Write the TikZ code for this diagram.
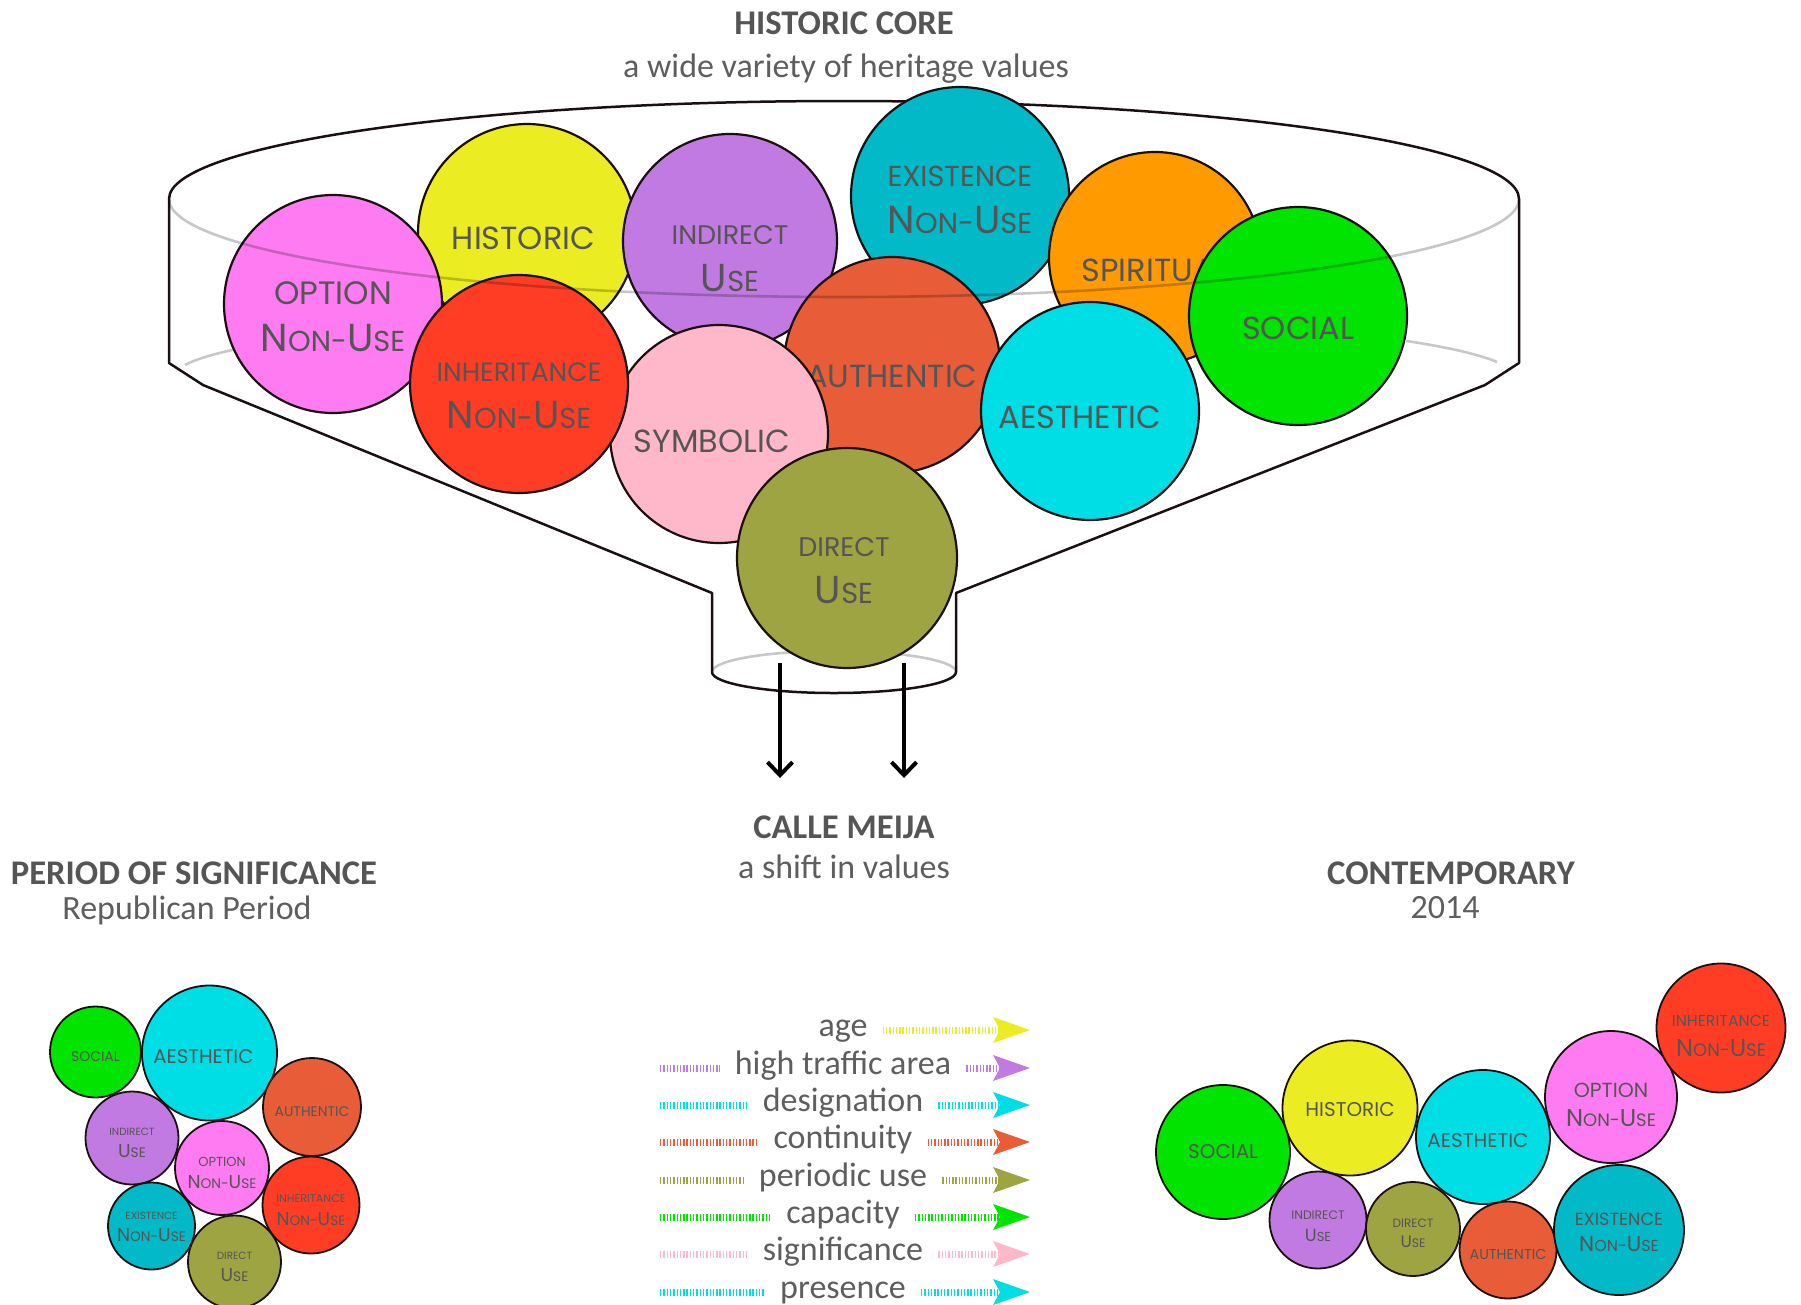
\documentclass[tikz,border=0pt]{standalone}
\usepackage{fontspec}
\usepackage{tikz}
\usetikzlibrary{positioning}
\usetikzlibrary{calc}
\usetikzlibrary{arrows.meta}

\setmainfont{Carlito}
\newfontfamily\valfamily{Poppins}

\definecolor{ink}{HTML}{1A1010}
\definecolor{txtGray}{HTML}{555555}
\definecolor{subGray}{HTML}{5E5E5E}
\definecolor{rimGray}{HTML}{C8C8C8}
\definecolor{optionPink}{HTML}{FF7BF1}
\definecolor{historicYellow}{HTML}{EBED22}
\definecolor{indirectPurple}{HTML}{C17AE2}
\definecolor{existenceTeal}{HTML}{02B9C7}
\definecolor{spiritualOrange}{HTML}{FF9A00}
\definecolor{socialGreen}{HTML}{00E400}
\definecolor{authenticRed}{HTML}{E85D38}
\definecolor{aestheticCyan}{HTML}{00DEE5}
\definecolor{inheritanceRed}{HTML}{FF3D24}
\definecolor{symbolicPink}{HTML}{FFB8CA}
\definecolor{directOlive}{HTML}{9DA441}

% scale the current font size by a factor
\makeatletter
\newcommand{\valScale}[2]{{\fontsize{\fpeval{#1*\f@size}}{\f@baselineskip}\selectfont#2}}
\makeatother
\newcommand{\smallCaps}[1]{\valScale{.74}{#1}}
\newcommand{\valWord}[1]{\valScale{.82}{#1}}
\newcommand{\nonUse}{N\smallCaps{ON-}U\smallCaps{SE}}
\newcommand{\useVal}{U\smallCaps{SE}}

\tikzset{
	valCircle/.style={circle, draw=ink, line width=2.2pt, inner sep=0pt, minimum size=#1pt},
	smallCircle/.style={valCircle=#1, line width=1.8pt},
	valLabel/.style={text=txtGray, align=center, inner sep=0pt,
		font=\valfamily\fontsize{#1}{\fpeval{1.22*#1}}\selectfont},
	coreLabel/.style={text=txtGray, align=center, inner sep=0pt, yshift=-10pt,
		font=\valfamily\fontsize{39}{47}\selectfont},
	pastLabel/.style={valLabel=18.6, yshift=-5pt},
	nowLabel/.style={valLabel=24.3, yshift=-4pt},
	titleText/.style={text=txtGray, inner sep=0pt, font=\bfseries\fontsize{34.6}{40}\selectfont},
	subText/.style={text=subGray, inner sep=0pt, font=\fontsize{34}{40}\selectfont},
	legendText/.style={text=subGray, inner ysep=0pt, inner xsep=15pt,
		text height=12pt, text depth=0pt, font=\fontsize{34}{38}\selectfont},
	funnelLine/.style={draw=ink, line width=2.5pt, line join=round},
	rimLine/.style={draw=rimGray, line width=2.6pt},
	dropArrow/.style={draw=black, line width=4pt, -{Straight Barb[length=13pt,width=25pt]}},
	stripeLine/.style={line width=7pt, dash pattern=on 1.4pt off 1.9pt},
	stripeArrow/.style={stripeLine, -{Stealth[length=37pt,width=26pt,inset=7pt,line width=0pt]}}
}

\begin{document}
\begin{tikzpicture}[x=1pt, y=-1pt]
\useasboundingbox (0,0) rectangle (1801,1304);

% titles
\node[titleText] (coreTitle) at (844,23) {HISTORIC CORE};
\node[subText] (coreSub) at (846,69) {a wide variety of heritage values};
\node[titleText] (calleTitle) at (844,827) {CALLE MEIJA};
\node[subText] (calleSub) at (844,867) {a shift in values};
\node[titleText] (pastTitle) at (194,873) {PERIOD OF SIGNIFICANCE};
\node[subText] (pastSub) at (187,910) {Republican Period};
\node[titleText] (nowTitle) at (1451,873) {CONTEMPORARY};
\node[subText] (nowSub) at (1445,908) {2014};

% --- funnel

\draw[rimLine] (185,365) arc[start angle=169.6, end angle=155, x radius=670pt, y radius=66pt];
\draw[rimLine] (1497,362) arc[start angle=13, end angle=33, x radius=670pt, y radius=66pt];
\draw[rimLine] (712,672) arc[start angle=180, end angle=0, x radius=122pt, y radius=21pt];

\draw[funnelLine] (169,199) arc[start angle=180, end angle=0, x radius=675pt, y radius=98pt]
	-- (1519,363) -- (1485,385) -- (956,593) -- (956,672)
	arc[start angle=0, end angle=-180, x radius=122pt, y radius=21pt]
	-- (712,593) -- (203,385) -- (169,363) -- cycle;

% --- historic core values

\node[
	valCircle=218,
	fill=existenceTeal,
	label={[coreLabel, yshift=6pt]center:{\valScale{.74}{EXISTENCE}\\\nonUse}}
] (coreExistence) at (960,196) {};

\node[
	valCircle=218,
	fill=historicYellow,
	label={[coreLabel, yshift=5pt, xshift=-3.5pt]center:{\valWord{HISTORIC}}}
] (coreHistoric) at (527,233) {};

\node[
	valCircle=218,
	fill=optionPink,
	label={[coreLabel, yshift=-3pt]center:{\valScale{.83}{OPTION}\\\nonUse}}
] (coreOption) at (333,304) {};

\node[
	valCircle=214,
	fill=indirectPurple,
	label={[coreLabel, yshift=-8pt]center:{\valScale{.69}{INDIRECT}\\\useVal}}
] (coreIndirect) at (730,241) {};

\node[
	valCircle=212,
	fill=spiritualOrange,
	label={[coreLabel, yshift=-2.5pt]center:{\valWord{SPIRITUAL}}}
] (coreSpiritual) at (1155,258) {};

\node[
	valCircle=216,
	fill=authenticRed,
	label={[coreLabel, yshift=-1pt]center:{\valWord{AUTHENTIC}}}
] (coreAuthentic) at (892,365) {};

\node[
	valCircle=218,
	fill=symbolicPink,
	label={[coreLabel, yshift=3pt, xshift=-7pt]center:{\valWord{SYMBOLIC}}}
] (coreSymbolic) at (719,434) {};

\node[
	valCircle=218,
	fill=inheritanceRed,
	label={[coreLabel, yshift=-1.5pt]center:{\valScale{.68}{INHERITANCE}\\\nonUse}}
] (coreInheritance) at (519,384) {};

\node[
	valCircle=218,
	fill=aestheticCyan,
	label={[coreLabel, yshift=3.5pt, xshift=-10pt]center:{\valWord{AESTHETIC}}}
] (coreAesthetic) at (1090,411) {};

\node[
	valCircle=218,
	fill=socialGreen,
	label={[coreLabel, yshift=-2pt]center:{\valWord{SOCIAL}}}
] (coreSocial) at (1298,316) {};

\node[
	valCircle=220,
	fill=directOlive,
	label={[coreLabel, yshift=-3pt, xshift=-3pt]center:{\valScale{.69}{DIRECT}\\\useVal}}
] (coreDirect) at (847,558) {};

\draw[black, opacity=.22, line width=2.6pt] (169,199) arc[start angle=180, end angle=360, x radius=675pt, y radius=98pt];

% --- outflow

\coordinate (spoutLeft) at (780,663);
\coordinate (spoutRight) at (904,663);
\coordinate (dropLeft) at (780,778);
\coordinate (dropRight) at (904,778);

\draw[dropArrow] (spoutLeft) -- (dropLeft);
\draw[dropArrow] (spoutRight) -- (dropRight);

% --- period of significance

\node[smallCircle=91, fill=socialGreen, label={[pastLabel]center:{\valScale{.75}{SOCIAL}}}] (pastSocial) at (95.5,1052) {};
\node[smallCircle=135, fill=aestheticCyan, label={[pastLabel, yshift=1pt, xshift=-6pt]center:{\valScale{1.06}{AESTHETIC}}}] (pastAesthetic) at (209.5,1053) {};
\node[smallCircle=98, fill=authenticRed, label={[pastLabel]center:{\valScale{.75}{AUTHENTIC}}}] (pastAuthentic) at (312,1107) {};
\node[smallCircle=93, fill=indirectPurple, label={[pastLabel]center:{\valScale{.56}{INDIRECT}\\\useVal}}] (pastIndirect) at (132,1138) {};
\node[smallCircle=94, fill=optionPink, label={[pastLabel]center:{\valScale{.7}{OPTION}\\\nonUse}}] (pastOption) at (222,1168) {};
\node[smallCircle=97, fill=inheritanceRed, label={[pastLabel]center:{\valScale{.6}{INHERITANCE}\\\nonUse}}] (pastInheritance) at (311,1205) {};
\node[smallCircle=87, fill=existenceTeal, label={[pastLabel, yshift=4pt]center:{\valScale{.56}{EXISTENCE}\\\nonUse}}] (pastExistence) at (151.5,1226) {};
\node[smallCircle=93, fill=directOlive, label={[pastLabel]center:{\valScale{.56}{DIRECT}\\\useVal}}] (pastDirect) at (234.5,1262) {};

% --- contemporary

\node[smallCircle=135, fill=historicYellow, label={[nowLabel, yshift=2pt]center:{\valWord{HISTORIC}}}] (nowHistoric) at (1350,1108) {};
\node[smallCircle=134, fill=socialGreen, label={[nowLabel, yshift=4pt]center:{\valWord{SOCIAL}}}] (nowSocial) at (1223,1152) {};
\node[smallCircle=134, fill=aestheticCyan, label={[nowLabel, xshift=-5pt]center:{\valWord{AESTHETIC}}}] (nowAesthetic) at (1483,1137) {};
\node[smallCircle=132, fill=optionPink, label={[nowLabel, yshift=-4pt]center:{\valScale{.84}{OPTION}\\\nonUse}}] (nowOption) at (1611,1097) {};
\node[smallCircle=129, fill=inheritanceRed, label={[nowLabel, yshift=-4pt]center:{\valScale{.65}{INHERITANCE}\\\nonUse}}] (nowInheritance) at (1721,1028) {};
\node[smallCircle=97, fill=indirectPurple, label={[valLabel=17.6, yshift=-6pt]center:{\valScale{.7}{INDIRECT}\\\useVal}}] (nowIndirect) at (1318,1220) {};
\node[smallCircle=94, fill=directOlive, label={[valLabel=16.7, yshift=-4pt]center:{\valScale{.72}{DIRECT}\\\useVal}}] (nowDirect) at (1413,1229) {};
\node[smallCircle=97, fill=authenticRed, label={[valLabel=17.7, yshift=-4pt]center:{\valScale{.81}{AUTHENTIC}}}] (nowAuthentic) at (1508,1250) {};
\node[smallCircle=130, fill=existenceTeal, label={[valLabel=21.5, yshift=-2pt]center:{\valScale{.82}{EXISTENCE}\\\nonUse}}] (nowExistence) at (1619,1230) {};

% --- legend

\coordinate (legendStart) at (660,0);
\coordinate (legendEnd) at (1030,0);

\node[legendText] (ageText) at (843,1030) {age};
\draw[stripeArrow, historicYellow] (ageText.east) -- (ageText -| legendEnd);

\node[legendText] (trafficText) at (843,1068) {high traffic area};
\draw[stripeLine, indirectPurple] (trafficText -| legendStart) -- (trafficText.west);
\draw[stripeArrow, indirectPurple] (trafficText.east) -- (trafficText -| legendEnd);

\node[legendText] (designText) at (843,1105) {designation};
\draw[stripeLine, aestheticCyan] (designText -| legendStart) -- (designText.west);
\draw[stripeArrow, aestheticCyan] (designText.east) -- (designText -| legendEnd);

\node[legendText] (continuityText) at (843,1142) {continuity};
\draw[stripeLine, authenticRed] (continuityText -| legendStart) -- (continuityText.west);
\draw[stripeArrow, authenticRed] (continuityText.east) -- (continuityText -| legendEnd);

\node[legendText] (periodicText) at (843,1180) {periodic use};
\draw[stripeLine, directOlive] (periodicText -| legendStart) -- (periodicText.west);
\draw[stripeArrow, directOlive] (periodicText.east) -- (periodicText -| legendEnd);

\node[legendText] (capacityText) at (843,1217) {capacity};
\draw[stripeLine, socialGreen] (capacityText -| legendStart) -- (capacityText.west);
\draw[stripeArrow, socialGreen] (capacityText.east) -- (capacityText -| legendEnd);

\node[legendText] (signifText) at (843,1254) {significance};
\draw[stripeLine, symbolicPink] (signifText -| legendStart) -- (signifText.west);
\draw[stripeArrow, symbolicPink] (signifText.east) -- (signifText -| legendEnd);

\node[legendText] (presenceText) at (843,1292) {presence};
\draw[stripeLine, aestheticCyan] (presenceText -| legendStart) -- (presenceText.west);
\draw[stripeArrow, aestheticCyan] (presenceText.east) -- (presenceText -| legendEnd);

\end{tikzpicture}
\end{document}
